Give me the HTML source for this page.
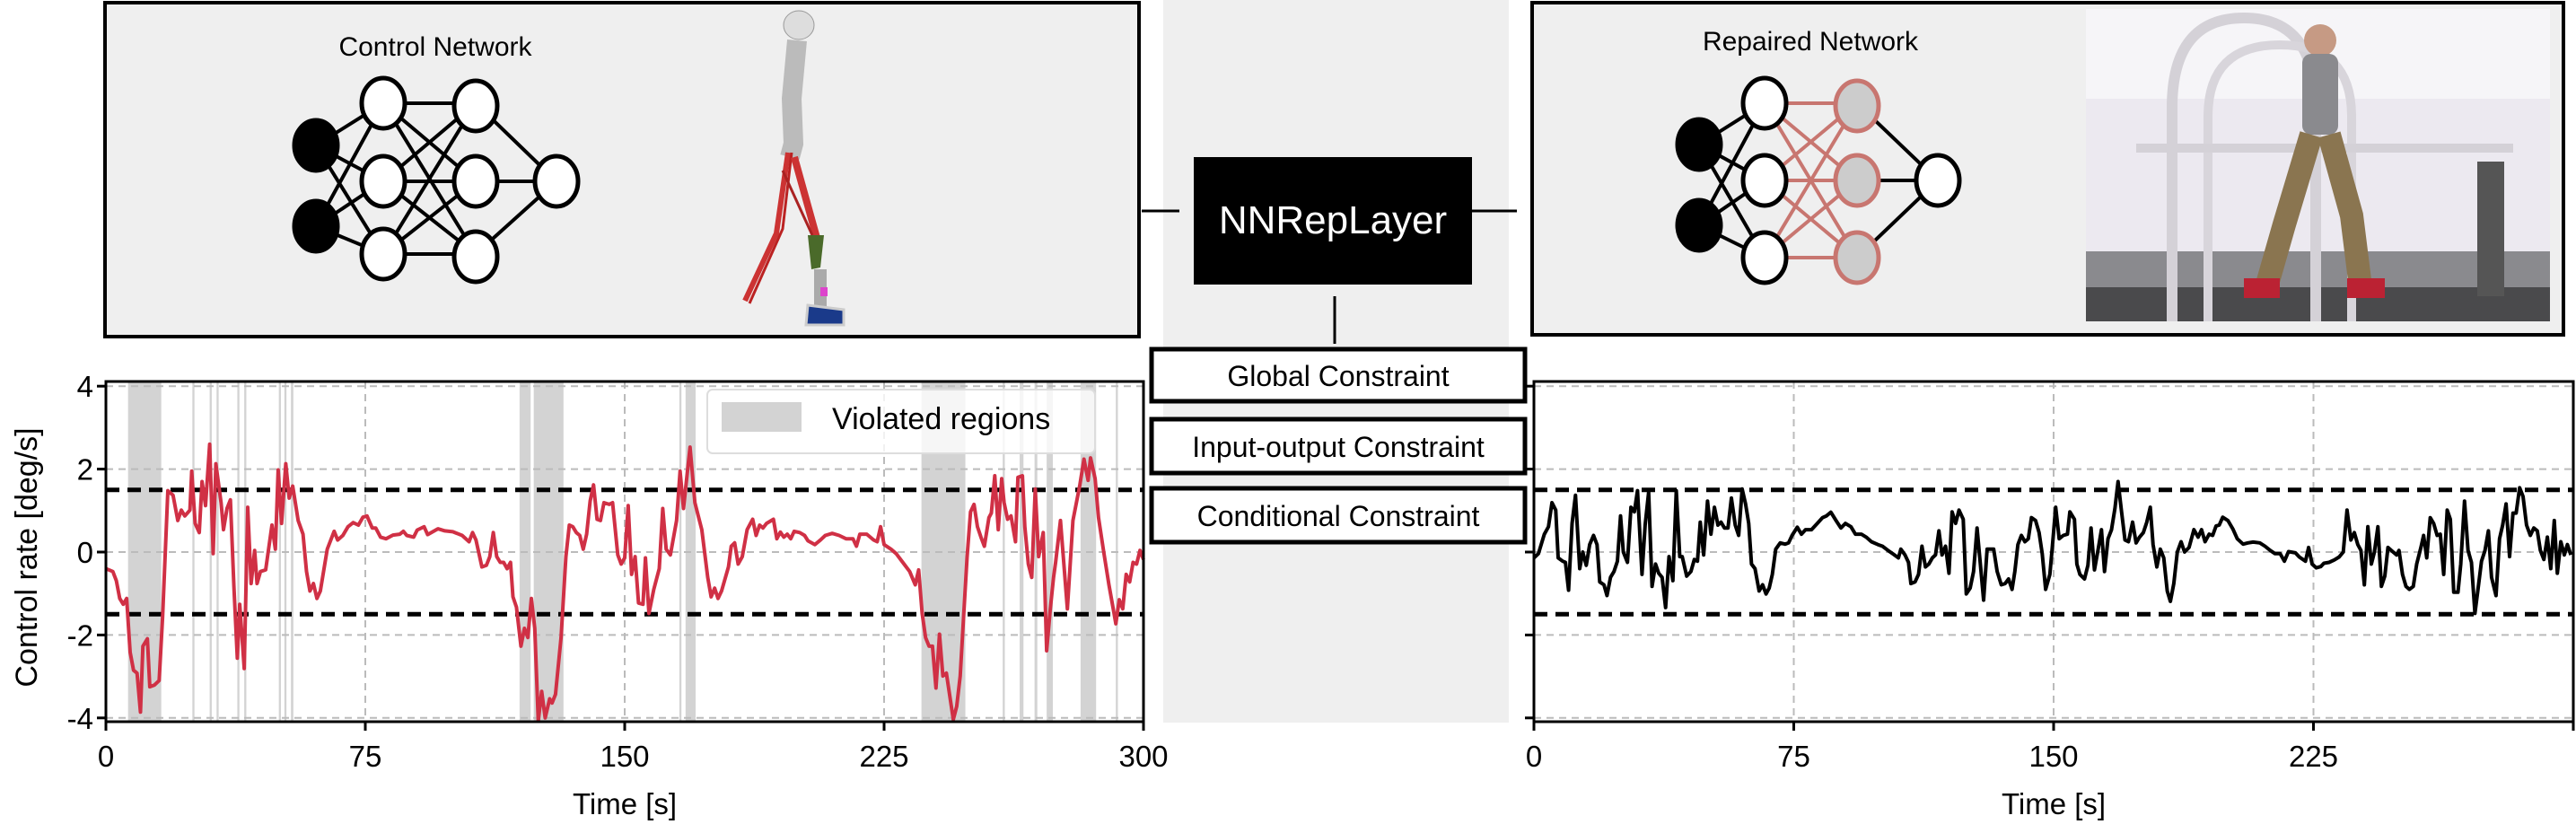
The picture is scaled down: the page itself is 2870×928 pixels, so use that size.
<!DOCTYPE html>
<html><head><meta charset="utf-8">
<style>
html,body{margin:0;padding:0;background:#fff;}
svg{display:block;font-family:"Liberation Sans",sans-serif;}
</style></head>
<body>
<svg id="fig" width="2870" height="928" viewBox="0 0 2870 928" xmlns="http://www.w3.org/2000/svg">
  <rect x="1296" y="0" width="385" height="805" fill="#efefef"/>
  <g>
    <rect x="117" y="3" width="1152" height="372" fill="#efefef" stroke="#000" stroke-width="4"/>
    <text x="485" y="62" font-size="30" text-anchor="middle">Control Network</text>
    <g stroke="#000" stroke-width="4">
      <line x1="352" y1="162" x2="427" y2="115"/><line x1="352" y1="162" x2="427" y2="202"/><line x1="352" y1="162" x2="427" y2="283"/>
      <line x1="352" y1="252" x2="427" y2="115"/><line x1="352" y1="252" x2="427" y2="202"/><line x1="352" y1="252" x2="427" y2="283"/>
      <line x1="427" y1="115" x2="530" y2="115"/><line x1="427" y1="115" x2="530" y2="202"/><line x1="427" y1="115" x2="530" y2="283"/>
      <line x1="427" y1="202" x2="530" y2="115"/><line x1="427" y1="202" x2="530" y2="202"/><line x1="427" y1="202" x2="530" y2="283"/>
      <line x1="427" y1="283" x2="530" y2="115"/><line x1="427" y1="283" x2="530" y2="202"/><line x1="427" y1="283" x2="530" y2="283"/>
      <line x1="530" y1="115" x2="620" y2="202"/><line x1="530" y1="202" x2="620" y2="202"/><line x1="530" y1="283" x2="620" y2="202"/>
    </g>
    <g stroke="#000" stroke-width="5">
      <ellipse cx="352" cy="162" rx="24" ry="28" fill="#000"/><ellipse cx="352" cy="252" rx="24" ry="28" fill="#000"/>
      <ellipse cx="427" cy="115" rx="24" ry="28" fill="#fff"/><ellipse cx="427" cy="202" rx="24" ry="28" fill="#fff"/><ellipse cx="427" cy="283" rx="24" ry="28" fill="#fff"/>
      <ellipse cx="530" cy="118" rx="24" ry="28" fill="#fff"/><ellipse cx="530" cy="202" rx="24" ry="28" fill="#fff"/><ellipse cx="530" cy="286" rx="24" ry="28" fill="#fff"/>
      <ellipse cx="620" cy="202" rx="24" ry="28" fill="#fff"/>
    </g>
    <g>
      <ellipse cx="890" cy="28" rx="17" ry="16" fill="#ddd" stroke="#999"/>
      <path d="M888 45 L882 110 L884 160 L880 175" stroke="#bbb" stroke-width="22" fill="none"/>
      <path d="M878 170 L865 260 L830 335" stroke="#c33" stroke-width="6" fill="none"/>
      <path d="M882 170 L872 255 L835 338" stroke="#b22" stroke-width="3" fill="none"/>
      <path d="M885 175 L910 265" stroke="#c33" stroke-width="8" fill="none"/>
      <path d="M872 190 L905 262" stroke="#a22" stroke-width="3" fill="none"/>
      <path d="M900 262 L918 262 L914 298 L904 300 Z" fill="#4a6a2a"/>
      <rect x="907" y="300" width="14" height="45" fill="#aaa"/>
      <path d="M900 340 L940 345 L940 362 L898 362 Z" fill="#1a3a8a" stroke="#ccc" stroke-width="3"/>
      <rect x="914" y="320" width="8" height="10" fill="#d4c"/>
    </g>
  </g>
  <g>
    <rect x="1707" y="3" width="1149" height="370" fill="#efefef" stroke="#000" stroke-width="4"/>
    <text x="2017" y="56" font-size="30" text-anchor="middle">Repaired Network</text>
    <g stroke="#000" stroke-width="4">
      <line x1="1893" y1="161" x2="1966" y2="115"/><line x1="1893" y1="161" x2="1966" y2="201"/><line x1="1893" y1="161" x2="1966" y2="287"/>
      <line x1="1893" y1="251" x2="1966" y2="115"/><line x1="1893" y1="251" x2="1966" y2="201"/><line x1="1893" y1="251" x2="1966" y2="287"/>
      <line x1="2069" y1="115" x2="2159" y2="201"/><line x1="2069" y1="201" x2="2159" y2="201"/><line x1="2069" y1="287" x2="2159" y2="201"/>
    </g>
    <g stroke="#c87670" stroke-width="4">
      <line x1="1966" y1="115" x2="2069" y2="115"/><line x1="1966" y1="115" x2="2069" y2="201"/><line x1="1966" y1="115" x2="2069" y2="287"/>
      <line x1="1966" y1="201" x2="2069" y2="115"/><line x1="1966" y1="201" x2="2069" y2="201"/><line x1="1966" y1="201" x2="2069" y2="287"/>
      <line x1="1966" y1="287" x2="2069" y2="115"/><line x1="1966" y1="287" x2="2069" y2="201"/><line x1="1966" y1="287" x2="2069" y2="287"/>
    </g>
    <g stroke-width="5">
      <ellipse cx="1893" cy="161" rx="24" ry="28" fill="#000" stroke="#000"/><ellipse cx="1893" cy="251" rx="24" ry="28" fill="#000" stroke="#000"/>
      <ellipse cx="1966" cy="115" rx="24" ry="28" fill="#fff" stroke="#000"/><ellipse cx="1966" cy="201" rx="24" ry="28" fill="#fff" stroke="#000"/><ellipse cx="1966" cy="287" rx="24" ry="28" fill="#fff" stroke="#000"/>
      <ellipse cx="2069" cy="118" rx="24" ry="28" fill="#ccc" stroke="#c87670"/><ellipse cx="2069" cy="201" rx="24" ry="28" fill="#ccc" stroke="#c87670"/><ellipse cx="2069" cy="287" rx="24" ry="28" fill="#ccc" stroke="#c87670"/>
      <ellipse cx="2159" cy="201" rx="24" ry="28" fill="#fff" stroke="#000"/>
    </g>
    <g>
      <rect x="2324" y="10" width="517" height="348" fill="#ece9f0"/>
      <rect x="2324" y="10" width="517" height="100" fill="#f6f5f8"/>
      <rect x="2324" y="280" width="517" height="40" fill="#8a8a8e"/>
      <rect x="2324" y="320" width="517" height="38" fill="#4a4a4c"/>
      <path d="M2420 358 L2420 120 Q2420 20 2500 20 Q2580 20 2580 120 L2580 358" stroke="#d4d1d7" stroke-width="12" fill="none"/>
      <path d="M2460 358 L2460 130 Q2460 50 2540 50 Q2620 50 2620 130 L2620 358" stroke="#d8d5db" stroke-width="10" fill="none"/>
      <rect x="2380" y="160" width="420" height="10" fill="#d4d1d7"/>
      <rect x="2760" y="180" width="30" height="150" fill="#555"/>
      <circle cx="2585" cy="45" r="18" fill="#c69a84"/>
      <rect x="2565" y="60" width="40" height="90" rx="10" fill="#8a8a8e"/>
      <path d="M2575 150 L2545 250 L2525 320 M2595 150 L2620 240 L2630 320" stroke="#8a7550" stroke-width="26" fill="none"/>
      <rect x="2500" y="310" width="40" height="22" fill="#b23"/>
      <rect x="2615" y="310" width="42" height="22" fill="#b23"/>
    </g>
  </g>
  <g>
    <line x1="1272" y1="235" x2="1314" y2="235" stroke="#000" stroke-width="3"/>
    <line x1="1640" y1="235" x2="1690" y2="235" stroke="#000" stroke-width="3"/>
    <line x1="1487" y1="330" x2="1487" y2="383" stroke="#000" stroke-width="3"/>
    <rect x="1330" y="175" width="310" height="142" fill="#000"/>
    <text x="1485" y="260" font-size="44" fill="#fff" text-anchor="middle">NNRepLayer</text>
  </g>
  <g>
    <rect x="1283" y="389" width="416" height="58" fill="#fff" stroke="#000" stroke-width="5"/>
    <text x="1491" y="430" font-size="32" text-anchor="middle">Global Constraint</text>
    <rect x="1283" y="467" width="416" height="60" fill="#fff" stroke="#000" stroke-width="5"/>
    <text x="1491" y="509" font-size="32" text-anchor="middle">Input-output Constraint</text>
    <rect x="1283" y="544" width="416" height="60" fill="#fff" stroke="#000" stroke-width="5"/>
    <text x="1491" y="586" font-size="32" text-anchor="middle">Conditional Constraint</text>
  </g>
  <g id="leftChart"></g>
  <g id="rightChart"></g>
</svg>
<script>
const xTicks = [0, 75, 150, 225, 300];
const yTicks = [4, 2, 0, -2, -4];
const yTickLabels = ["4", "2", "0", "-2", "-4"];
const thresholds = [1.5, -1.5];
const violatedStarts = [6.4,25,30,32,38,40,50,51.6,53.5,119.6,123.7,165.8,167.6,235.8,259.3,264.2,268.5,272,281.8,292];
const violatedEnds   = [16,25.6,30.6,32.6,38.6,40.6,50.6,52.2,54.2,122.8,132.3,166.4,170.5,248.5,259.9,265.3,269.3,273.8,286.3,292.6];
const redT = [0,2,3,4,5,6,7,8,9,10,10.7,12,12.7,14,15.4,16.4,17.9,19.4,20.8,21.8,22.8,24.3,24.8,25.8,27,27.8,28.8,30,31,31.8,33.3,34,35,36,37,38,38.7,40,41,42,43,43.7,44.7,46.2,48,49,49.8,50.8,52,53,54,55.6,57,58,59,60,61,62,64,66,67,68.5,70,71.5,73,74.3,75.5,77,78,79.4,81,83,85,86,87,89,90,92,93,96,98,100.3,103,105,106,107,108.7,110,111,112,113,114,115,116,117,117.7,118.7,120,121,122,123,124,125,126,127,128.3,129,130,131.6,133,134,135,136,137,138,139,140,141,142,143,144,145.5,146.5,148,149,150,151,152,153,154,155.3,156,157,158.4,160,161,162,163.2,165,166,167,168.9,170.3,172.3,174,175,176,177,178,180,180.8,181.8,182.8,184,185.4,187,188,189,190,191,193,194,195,196,197,198,199,200.6,202,203,205,206.6,208,210,212,214,216,217,218,220,222,223,224,225,227,228.5,230.4,232.4,234,235,236,237,238,239,240,241,242,243,245,246,247,248,249,250,251,252,253,254,255.3,256,257,258,259,259.7,260.7,261.7,263,263.7,265,265.7,266.7,267.7,268.7,269.7,271,272,273,274,274.6,276,278,279.6,281.6,282.8,284,284.7,286,287,288.5,290,291.5,292,293,294,295,296,297,298,299,300];
const redV = [-0.4,-0.47,-0.69,-1.12,-1.26,-1.12,-2.42,-2.85,-2.92,-3.86,-2.27,-2.09,-3.25,-3.21,-3.1,-1.55,1.48,1.37,0.76,1.01,0.87,1.01,1.95,0.69,0.47,1.7,1.12,2.6,-0.04,2.13,1.19,0.54,1.05,1.26,-0.83,-2.56,-1.26,-2.81,1.08,-0.76,0.04,-0.76,-0.47,-0.43,0.65,0.07,1.98,0.69,2.13,1.3,1.59,0.76,0.43,-0.47,-0.94,-0.76,-1.12,-0.94,0.07,0.5,0.29,0.4,0.61,0.71,0.65,0.84,0.87,0.58,0.58,0.36,0.32,0.41,0.43,0.5,0.4,0.36,0.53,0.61,0.42,0.56,0.51,0.49,0.4,0.25,0.47,0.29,-0.36,-0.32,-0.11,0.47,-0.11,-0.25,-0.25,-0.4,-0.25,-1.08,-1.33,-2.27,-1.84,-2.06,-1.12,-1.84,-4.08,-3.36,-4.0,-3.54,-3.64,-3.43,-2.06,-0.11,0.65,0.61,0.47,0.4,0.07,0.43,1.23,1.62,0.79,0.76,1.19,1.15,1.19,-0.07,-0.29,-0.14,1.12,-0.54,-0.11,-1.23,-1.26,-0.14,-1.48,-0.9,-0.4,1.05,0.07,-0.07,0.76,1.95,1.05,2.53,1.19,0.54,-0.61,-1.08,-0.87,-1.12,-0.94,-0.36,0.14,0.22,-0.29,-0.11,0.54,0.79,0.4,0.65,0.58,0.69,0.79,0.32,0.48,0.36,0.43,0.32,0.5,0.47,0.4,0.27,0.18,0.29,0.4,0.45,0.4,0.32,0.32,0.14,0.43,0.43,0.29,0.25,0.61,0.18,0.07,-0.04,-0.25,-0.47,-0.79,-0.43,-1.48,-2.06,-2.27,-2.27,-3.28,-1.98,-2.99,-2.92,-4.04,-3.72,-2.99,-1.55,-0.11,0.97,1.15,0.61,0.36,0.14,0.83,0.94,1.84,0.54,1.77,1.19,0.79,0.87,0.25,1.8,1.84,0.61,-0.29,-0.61,1.52,-0.11,0.47,-2.38,-1.41,-0.61,-0.25,0.76,-1.37,0.76,1.62,2.24,1.73,2.27,1.77,0.83,0.0,-0.79,-1.48,-1.73,-1.15,-1.37,-0.54,-0.72,-0.25,-0.29,0.04,-0.18];
const blackT = [0,1.3,3,4.2,5.2,6.3,7,8.3,9.1,10,11,12,13.2,14.1,15.1,16.1,17.2,18.2,19,20.2,21.1,22.1,23.1,24.1,25,25.8,27,28,29,29.9,31.2,32.1,33.1,34.1,35.1,36,37,38,39,40.1,41.1,42.1,42.8,44.1,45.3,46.3,47.2,48,49,50.1,51.1,52.1,53.1,54,55,56,57,58.1,59.1,60.1,61.1,62,62.8,63.8,65,66,67,67.9,68.8,69.8,71.1,72.5,73.5,74.5,76,77.2,78.4,80.1,81.8,83.3,84.4,85.7,87.2,88.6,89.9,91.5,92.8,94.5,95.9,97.4,99.3,100.6,102.2,103.7,105.2,105.9,107.1,108.1,108.8,110,111,112,113,114,115,115.9,116.9,117.8,118.8,119.8,120.7,121.7,122.7,123.9,124.8,125.9,126.9,127.9,128.8,129.8,130.8,132.7,133.7,134.9,136,137,138,138.8,139.7,140.7,141.7,142.7,143.6,144.8,145.8,146.7,147.7,148.9,149.6,150.6,151.6,152.8,154,154.7,156,156.7,157.6,158.9,159.9,160.8,161.8,162.8,163.8,164.7,165.7,166.7,167.7,168.6,169.6,170.6,171.6,172.8,173.8,174.8,175.9,176.9,177.9,178.7,179.8,180.8,181.8,182.8,183.7,184.7,185.7,186.8,187.8,189.1,190.5,191.7,192.7,193.7,194.9,195.9,196.9,197.8,198.8,200.3,201.7,203,204.7,206.1,207.6,209.5,211,212.5,213.9,215.4,216.6,217.8,219.8,220.9,222.7,223.6,224.6,225.8,227.1,228,229.5,231,232.4,233.6,234.7,235.8,236.8,237.8,238.7,239.7,240.7,241.7,242.6,243.6,244.6,245.6,246.5,248,249,249.7,250.7,251.7,252.7,253.8,254.8,256,256.8,257.7,258.7,259.7,260.7,261.6,262.6,263.6,264.5,265.5,266.7,267.5,268.6,269.6,270.6,271.6,272.5,273.5,274.5,275.5,276.4,277.7,278.7,279.6,280.6,281.6,282.6,283.5,284.5,285.5,286.5,287.6,288.6,289.6,290.5,291.5,292.5,293.5,294.5,295.4,296.4,297.4,298.3,299.3];
const blackV = [-0.14,-0.04,0.43,0.61,1.19,1.01,-0.14,-0.22,-0.25,-0.92,0.69,1.37,-0.4,0,-0.32,0.18,0.4,0.18,-0.72,-0.79,-1.05,-0.61,-0.47,-0.22,0.87,0,-0.25,1.08,0.97,1.48,-0.54,0.65,1.44,-0.83,-0.29,-0.51,-0.61,-1.34,-0.11,-0.69,1.48,-0.11,-0.11,-0.58,-0.47,-0.18,-0.22,0.72,-0.07,1.23,0.43,1.08,0.65,0.72,0.58,0.58,1.3,0.65,0.4,1.52,1.16,0.69,-0.29,-0.4,-0.94,-0.79,-1.01,-0.87,-0.54,0.07,0.22,0.19,0.22,0.4,0.6,0.43,0.54,0.54,0.69,0.83,0.87,0.96,0.76,0.58,0.69,0.61,0.43,0.43,0.36,0.25,0.18,0.14,0.04,-0.05,-0.14,0.07,-0.07,-0.25,-0.76,-0.72,-0.54,0.14,-0.36,-0.29,-0.14,-0.07,0.51,-0.07,0.14,-0.51,0.97,0.69,1.01,0.79,-1.01,-0.87,-0.47,0.58,-0.25,-1.16,0.07,0.07,-0.47,-0.79,-0.76,-0.65,-0.9,-0.47,0.18,0.4,0.25,0.32,0.83,0.76,0.47,-0.04,-0.9,-0.54,0.11,1.08,0.32,0.4,0.43,0.97,0.79,-0.29,-0.54,-0.65,-0.32,0.58,-0.43,0.04,0.54,-0.47,0.32,0.54,1.05,1.7,0.97,0.29,0.25,0.72,0.22,0.36,0.47,0.72,1.08,0.18,-0.36,0.07,-0.14,-0.94,-1.19,-0.76,0,0.25,0,0.11,0.54,0.36,0.54,0.25,0.43,0.4,0.63,0.65,0.84,0.76,0.56,0.32,0.19,0.22,0.24,0.22,0.14,0.04,-0.04,-0.04,-0.22,0.01,-0.02,-0.12,-0.22,0.11,-0.29,-0.38,-0.35,-0.27,-0.25,-0.19,-0.12,0,1.01,0.29,0.47,0.18,0.04,-0.79,0.61,-0.29,0,0.61,-0.83,-0.58,0.11,0,-0.07,0.04,-0.54,-0.83,-0.9,-0.83,-0.29,0.11,0.4,-0.14,0.83,0.69,0.4,0.43,-0.54,1.01,0.79,-0.97,-0.97,-0.29,1.23,0.04,-0.25,-1.48,-0.9,-0.22,0.04,0.51,-0.61,-1.05,0.32,0.65,1.16,-0.11,0.94,0.94,1.55,1.34,0.65,0.4,0.58,0.51,0.04,-0.18,0.36,-0.4,0.76,-0.51,0.25,-0.07,0.18,-0.07];

const NS = "http://www.w3.org/2000/svg";
function mk(parent, tag, attrs) {
  const el = document.createElementNS(NS, tag);
  for (const k in attrs) el.setAttribute(k, attrs[k]);
  parent.appendChild(el);
  return el;
}
function drawChart(g, x0, x1, xMax, showYLabels, showViolated, tArr, vArr, color, showLegend, labelMax) {
  const yTop = 425, yBot = 804, yMin = -4.15, yMaxV = 4.15;
  const sx = t => x0 + (t / xMax) * (x1 - x0);
  const sy = v => 615 - v * 46.2;
  if (showViolated) {
    for (let i = 0; i < violatedStarts.length; i++) {
      const r = mk(g, 'rect', {x: sx(violatedStarts[i]), y: yTop, width: Math.max(2, sx(violatedEnds[i]) - sx(violatedStarts[i])), height: yBot - yTop, fill: '#d3d3d3'});
      
      
    }
  }
  for (const t of xTicks) {
    const l = mk(g, 'line', {x1: sx(t), x2: sx(t), y1: yTop, y2: yBot, stroke: '#bbb', 'stroke-width': 2, 'stroke-dasharray': '8,6'});
    
    
  }
  for (const v of yTicks) {
    const l = mk(g, 'line', {x1: x0, x2: x1, y1: sy(v), y2: sy(v), stroke: '#bbb', 'stroke-width': 2, 'stroke-dasharray': '8,6'});
    
    
  }
  for (const th of thresholds) {
    const l = mk(g, 'line', {x1: x0, x2: x1, y1: sy(th), y2: sy(th), stroke: '#000', 'stroke-width': 5, 'stroke-dasharray': '15,9'});
    
    
  }
  let d = '';
  for (let i = 0; i < tArr.length; i++) {
    const v = Math.max(yMin, Math.min(yMaxV, vArr[i]));
    d += (i ? 'L' : 'M') + sx(tArr[i]).toFixed(1) + ' ' + sy(v).toFixed(1);
  }
  const p = mk(g, 'path', {d: d, fill: 'none', stroke: color, 'stroke-width': 4, 'stroke-linejoin': 'round'});
  
  
  const f = mk(g, 'rect', {x: x0, y: yTop, width: x1 - x0, height: yBot - yTop, fill: 'none', stroke: '#000', 'stroke-width': 3});
  
  
  for (const t of xTicks) {
    const tk = mk(g, 'line', {x1: sx(t), x2: sx(t), y1: yBot, y2: yBot + 10, stroke: '#000', 'stroke-width': 3});
    
    
    if (t > labelMax) continue;
    const tl = mk(g, 'text', {x: sx(t), y: yBot + 50, 'font-size': 33, 'text-anchor': 'middle'});
    tl.textContent = String(t);
    
    
  }
  yTicks.forEach((v, i) => {
    const tk = mk(g, 'line', {x1: x0 - 10, x2: x0, y1: sy(v), y2: sy(v), stroke: '#000', 'stroke-width': 3});
    
    
    if (showYLabels) {
      const tl = mk(g, 'text', {x: x0 - 14, y: sy(v) + 12, 'font-size': 33, 'text-anchor': 'end'});
      tl.textContent = yTickLabels[i];
      
      
    }
  });
  const xt = mk(g, 'text', {x: (x0 + x1) / 2, y: 907, 'font-size': 33, 'text-anchor': 'middle'});
  xt.textContent = 'Time [s]';
  
  
  if (showYLabels) {
    const yt = mk(g, 'text', {x: 0, y: 0, 'font-size': 34, 'text-anchor': 'middle', transform: 'translate(41,621) rotate(-90)'});
    yt.textContent = 'Control rate [deg/s]';
    
    
  }
  if (showLegend) {
    const lg = mk(g, 'g', {});
    
    
    mk(lg, 'rect', {x: 788, y: 434, width: 432, height: 71, rx: 6, fill: 'rgba(255,255,255,0.8)', stroke: '#ddd', 'stroke-width': 2});
    const sw = mk(lg, 'rect', {x: 804, y: 448, width: 89, height: 33, fill: '#d3d3d3'});
    
    
    const lt = mk(lg, 'text', {x: 927, y: 478, 'font-size': 34});
    lt.textContent = 'Violated regions';
    
    
  }
}
drawChart(document.getElementById('leftChart'), 118, 1274, 300, true, true, redT, redV, '#d03045', true, 300);
drawChart(document.getElementById('rightChart'), 1709, 2867, 300, false, false, blackT, blackV, '#000', false, 225);
</script>
</body></html>
